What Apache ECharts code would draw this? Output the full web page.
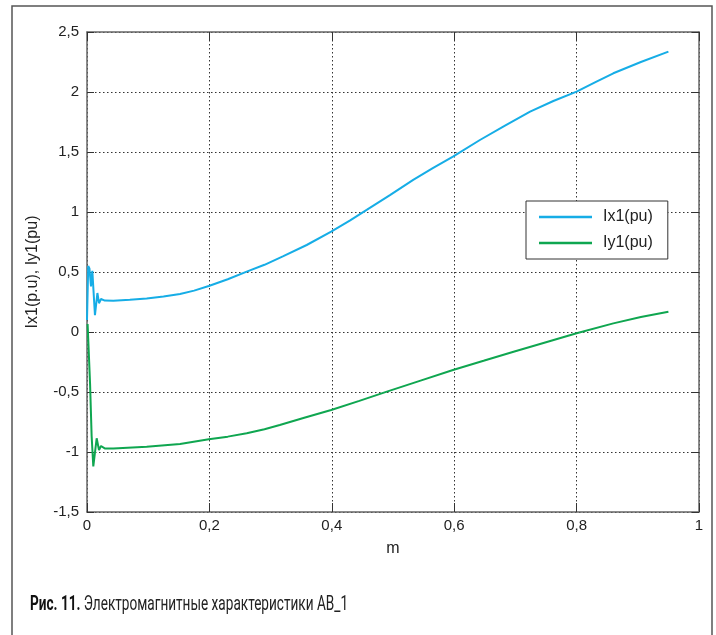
<!DOCTYPE html>
<html>
<head>
<meta charset="utf-8">
<script src="https://cdn.jsdelivr.net/npm/echarts@6/dist/echarts.min.js"></script>
<style>
  html, body { margin: 0; padding: 0; background: #fff; }
  #chart { width: 716px; height: 635px; }
</style>
</head>
<body>
<div id="chart"></div>
<script>
// m values and currents
var mIx1 = [0, 0.002, 0.004, 0.0065, 0.0087, 0.013, 0.017, 0.0196, 0.0229, 0.029, 0.043, 0.07, 0.0975, 0.125, 0.152, 0.175, 0.199, 0.23, 0.261, 0.29, 0.32, 0.359, 0.399, 0.43, 0.457, 0.495, 0.533, 0.565, 0.598, 0.642, 0.683, 0.724, 0.762, 0.80, 0.83, 0.86, 0.905, 0.95];
var ix1 = [0.10, 0.55, 0.53, 0.38, 0.51, 0.14, 0.325, 0.24, 0.275, 0.262, 0.26, 0.268, 0.28, 0.295, 0.317, 0.345, 0.383, 0.44, 0.503, 0.56, 0.63, 0.725, 0.836, 0.93, 1.017, 1.14, 1.267, 1.365, 1.461, 1.60, 1.72, 1.836, 1.925, 2.003, 2.08, 2.156, 2.25, 2.336];

var mIy1 = [0.001, 0.005, 0.0076, 0.0103, 0.0158, 0.0196, 0.0229, 0.029, 0.043, 0.0975, 0.152, 0.199, 0.23, 0.261, 0.29, 0.315, 0.355, 0.399, 0.445, 0.49, 0.545, 0.598, 0.648, 0.697, 0.75, 0.80, 0.86, 0.905, 0.95];
var iy1 = [0.067, -0.43, -0.87, -1.12, -0.886, -0.983, -0.95, -0.97, -0.97, -0.956, -0.933, -0.894, -0.872, -0.844, -0.81, -0.775, -0.715, -0.65, -0.574, -0.497, -0.405, -0.317, -0.24, -0.164, -0.085, -0.011, 0.072, 0.125, 0.169];

var xTicks = [0, 0.2, 0.4, 0.6, 0.8, 1];
var xTickLabels = ['0', '0,2', '0,4', '0,6', '0,8', '1'];
var yTicks = [-1.5, -1, -0.5, 0, 0.5, 1, 1.5, 2, 2.5];
var yTickLabels = ['-1,5', '-1', '-0,5', '0', '0,5', '1', '1,5', '2', '2,5'];

function pairs(xs, ys) {
    return xs.map(function (x, i) { return [x, ys[i]]; });
}
function tickText(ticks, labels) {
    return function (v) {
        for (var i = 0; i < ticks.length; i++) {
            if (Math.abs(ticks[i] - v) < 1e-9) return labels[i];
        }
        return '';
    };
}

var font = "'Liberation Sans', Arial, sans-serif";
var axisCol = '#666';
var gridLine = { show: true, lineStyle: { color: '#333', width: 1, type: [1.5, 2.5] } };

var chart = echarts.init(document.getElementById('chart'));

var option = {
    animation: false,
    backgroundColor: '#fff',
    grid: { left: 87, right: 17, top: 32, bottom: 123, containLabel: false },
    legend: {
        orient: 'vertical',
        left: 526,
        top: 201,
        padding: [7, 15, 7, 13],
        itemGap: 8,
        itemWidth: 53,
        itemHeight: 2.5,
        icon: 'rect',
        borderColor: '#333',
        borderWidth: 1,
        backgroundColor: '#fff',
        textStyle: { fontFamily: font, fontSize: 16, color: '#222', lineHeight: 18, padding: [0, 0, 0, 6] },
        data: ['Ix1(pu)', 'Iy1(pu)']
    },
    xAxis: [{
        type: 'value', min: 0, max: 1, interval: 0.2,
        name: 'm', nameLocation: 'middle', nameGap: 29,
        nameTextStyle: { fontFamily: font, fontSize: 16, color: '#222' },
        axisLine: { onZero: false, lineStyle: { color: axisCol, width: 1.5 } },
        axisTick: { inside: true, length: 9, lineStyle: { color: '#333' } },
        axisLabel: { fontFamily: font, fontSize: 15, color: '#222', margin: 6, formatter: tickText(xTicks, xTickLabels) },
        splitLine: gridLine
    }, {
        type: 'value', min: 0, max: 1, interval: 0.2, position: 'top',
        axisLine: { onZero: false, lineStyle: { color: axisCol, width: 1.5 } },
        axisTick: { inside: true, length: 9, lineStyle: { color: '#333' } },
        axisLabel: { show: false },
        splitLine: { show: false }
    }],
    yAxis: [{
        type: 'value', min: -1.5, max: 2.5, interval: 0.5,
        name: 'Ix1(p.u), Iy1(pu)', nameLocation: 'middle', nameGap: 46, nameRotate: 90,
        nameTextStyle: { fontFamily: font, fontSize: 16, color: '#222' },
        axisLine: { show: true, onZero: false, lineStyle: { color: axisCol, width: 1.5 } },
        axisTick: { show: true, inside: true, length: 7, lineStyle: { color: '#333' } },
        axisLabel: { fontFamily: font, fontSize: 15, color: '#222', margin: 8, formatter: tickText(yTicks, yTickLabels) },
        splitLine: gridLine
    }, {
        type: 'value', min: -1.5, max: 2.5, interval: 0.5, position: 'right',
        axisLine: { show: true, onZero: false, lineStyle: { color: axisCol, width: 1.5 } },
        axisTick: { show: true, inside: true, length: 7, lineStyle: { color: '#333' } },
        axisLabel: { show: false },
        splitLine: { show: false }
    }],
    series: [{
        name: 'Ix1(pu)',
        type: 'line',
        data: pairs(mIx1, ix1),
        showSymbol: false,
        symbol: 'none',
        lineStyle: { color: '#16ade6', width: 2 },
        itemStyle: { color: '#16ade6' }
    }, {
        name: 'Iy1(pu)',
        type: 'line',
        data: pairs(mIy1, iy1),
        showSymbol: false,
        symbol: 'none',
        lineStyle: { color: '#0fa650', width: 2 },
        itemStyle: { color: '#0fa650' }
    }],
    graphic: [{
        type: 'rect',
        shape: { x: 12, y: 6, width: 700, height: 700 },
        style: { fill: 'none', stroke: '#555', lineWidth: 1.5 },
        silent: true
    }, {
        type: 'text',
        x: 30,
        y: 605,
        scaleX: 0.68,
        style: {
            text: '{b|Рис. 11.} Электромагнитные характеристики АВ_1',
            fontFamily: 'Roboto, sans-serif',
            fontSize: 20,
            fill: '#222',
            verticalAlign: 'middle',
            rich: {
                b: { fontFamily: 'Roboto, sans-serif', fontSize: 20, fontWeight: 'bold', fill: '#111' }
            }
        }
    }]
};

chart.setOption(option);
</script>
</body>
</html>
